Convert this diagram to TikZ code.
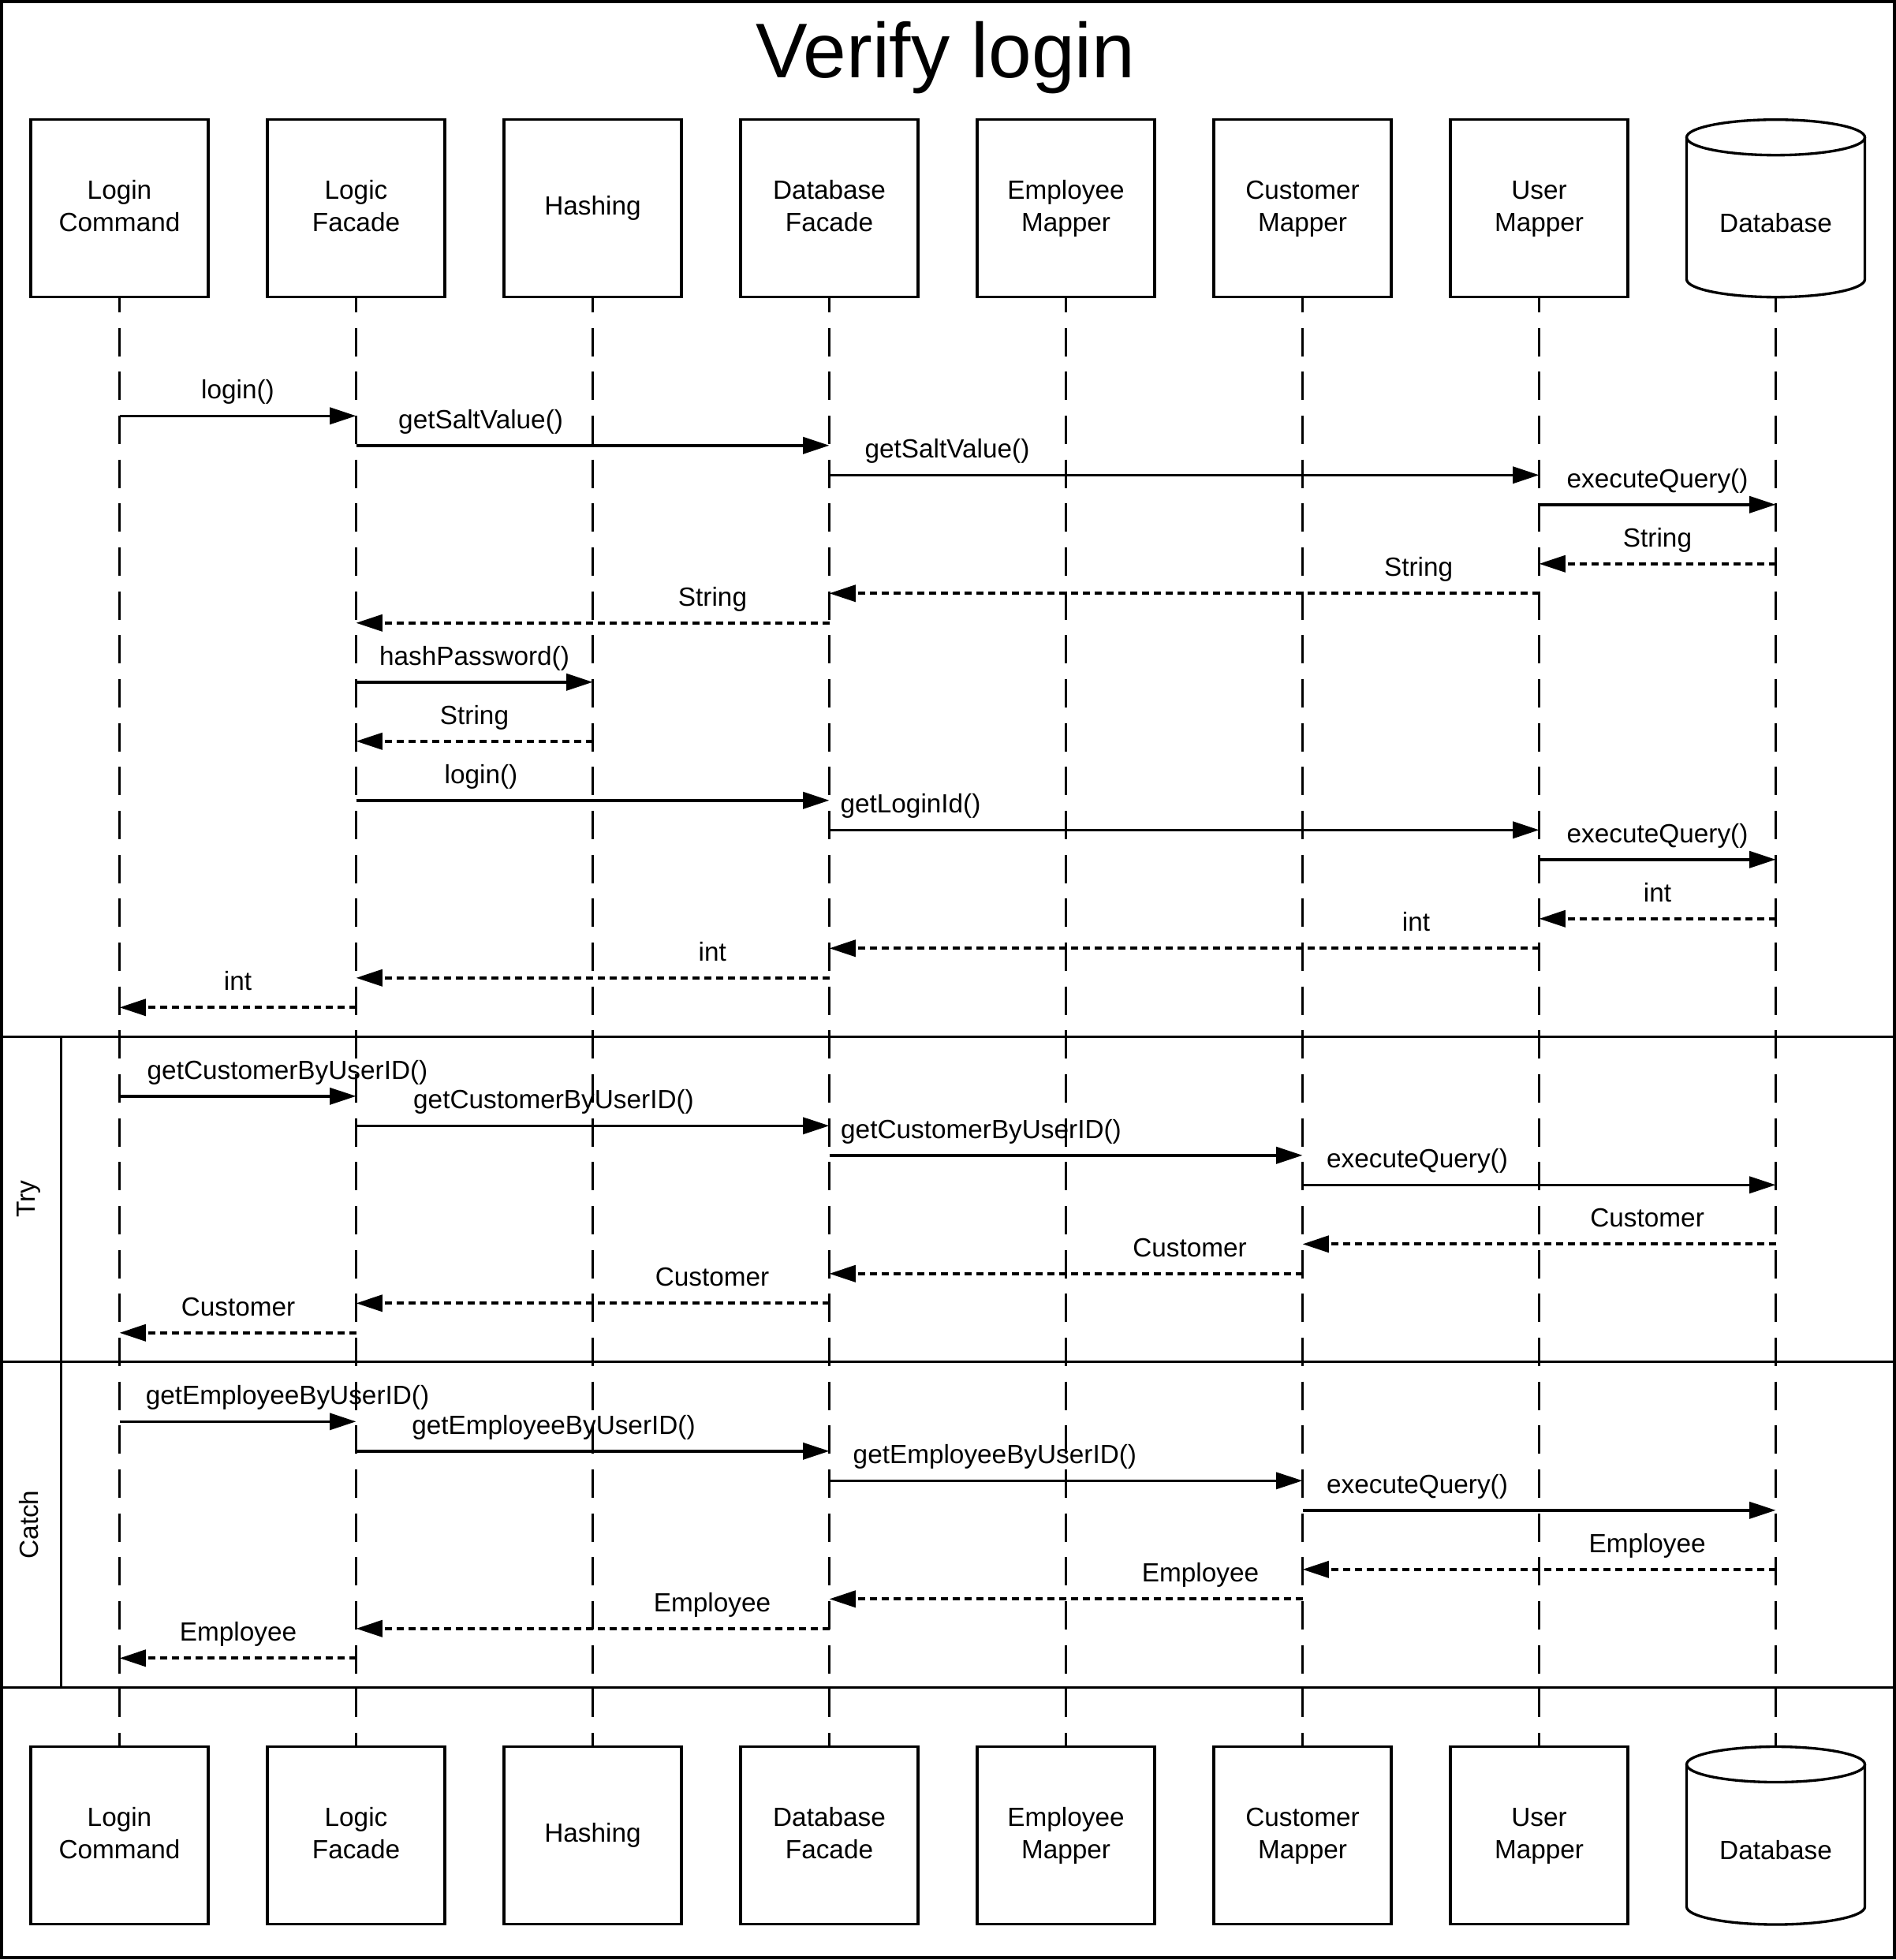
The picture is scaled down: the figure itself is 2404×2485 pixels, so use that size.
\documentclass[tikz,border=0pt]{standalone}
\usepackage{fontspec}
\setmainfont{Liberation Sans}
\usetikzlibrary{arrows.meta}
\newcommand{\seqmsg}[7]{%
  \pgfmathsetmacro{\msgy}{527.3+37.5*#5}%
  \pgfmathsetmacro{\laby}{\msgy-21.5}%
  \draw[#1] (#3 |- 0,\msgy) -- (#4 |- 0,\msgy);%
  \node[lbl, anchor=base] (#2) at (#6,\laby) {#7};%
}
\newcommand{\bxs}{\rule[-3.5pt]{0pt}{12.2pt}}
\begin{document}
\begin{tikzpicture}[x=0.3pt,y=-0.3pt,
  actor/.style={draw, line width=1pt, minimum width=67.5pt, minimum height=67.5pt,
    inner sep=0pt, outer sep=0pt, align=center, font=\fontsize{10}{12.3}\selectfont},
  ghost/.style={minimum width=67.5pt, minimum height=67.5pt, inner sep=0pt, outer sep=0pt},
  lbl/.style={font=\fontsize{10}{12}\selectfont, inner sep=0pt},
  lifeline/.style={line width=1.15pt, dash pattern=on 10.8pt off 5.9pt, dash phase=5pt},
  callarrow/.style={line width=1.05pt, -{Triangle[length=10pt,width=6.3pt]}},
  retarrow/.style={line width=1.1pt, dash pattern=on 2.7pt off 1.8pt, -{Triangle[length=10pt,width=6.3pt]}},
  frameline/.style={line width=1pt},
  cyl/.style={line width=1pt}
]
\useasboundingbox (0,0) rectangle (2404,2485);
\draw[line width=1.2pt] (2,2) rectangle (2402,2482);
\node[font=\fontsize{29.5}{35}\selectfont, anchor=base, inner sep=0pt] (title) at (1199,98.3) {Verify login};

% top participants
\node[actor] (nLC) at (151.5,264.2) {\bxs Login\\\bxs Command};
\node[actor] (nLF) at (451.5,264.2) {\bxs Logic\\\bxs Facade};
\node[actor] (nHS) at (751.5,264.2) {Hashing};
\node[actor] (nDF) at (1051.5,264.2) {\bxs Database\\\bxs Facade};
\node[actor] (nEM) at (1351.5,264.2) {\bxs Employee\\\bxs Mapper};
\node[actor] (nCM) at (1651.5,264.2) {\bxs Customer\\\bxs Mapper};
\node[actor] (nUM) at (1951.5,264.2) {\bxs User\\\bxs Mapper};
\node[ghost, label={[lbl, yshift=-5.5pt]center:Database}] (nDB) at (2251.5,264.2) {};
% bottom participants
\node[actor] (nLCb) at (151.5,2327.2) {\bxs Login\\\bxs Command};
\node[actor] (nLFb) at (451.5,2327.2) {\bxs Logic\\\bxs Facade};
\node[actor] (nHSb) at (751.5,2327.2) {Hashing};
\node[actor] (nDFb) at (1051.5,2327.2) {\bxs Database\\\bxs Facade};
\node[actor] (nEMb) at (1351.5,2327.2) {\bxs Employee\\\bxs Mapper};
\node[actor] (nCMb) at (1651.5,2327.2) {\bxs Customer\\\bxs Mapper};
\node[actor] (nUMb) at (1951.5,2327.2) {\bxs User\\\bxs Mapper};
\node[ghost, label={[lbl, yshift=-5.5pt]center:Database}] (nDBb) at (2251.5,2327.2) {};

% cylinders
\draw[cyl] (2251.5,174.2) ellipse [x radius=33.9pt, y radius=6.75pt];
\draw[cyl] (2138.5,174.2) -- (2138.5,354.2) arc[start angle=180, end angle=360, x radius=33.9pt, y radius=6.75pt] -- (2364.5,174.2);
\draw[cyl] (2251.5,2237) ellipse [x radius=33.9pt, y radius=6.75pt];
\draw[cyl] (2138.5,2237) -- (2138.5,2417.5) arc[start angle=180, end angle=360, x radius=33.9pt, y radius=6.75pt] -- (2364.5,2237);

% frames
\draw[frameline] (2,1314.3) -- (2402,1314.3);
\draw[frameline] (2,1726.7) -- (2402,1726.7);
\draw[frameline] (2,2139.3) -- (2402,2139.3);
\draw[frameline] (77.3,1314.3) -- (77.3,2139.3);
\node[lbl, rotate=90] (try) at (36.7,1520) {Try};
\node[lbl, rotate=90] (catch) at (36.7,1933) {Catch};

% lifelines
\foreach \a in {nLC,nLF,nHS,nDF,nEM,nCM,nUM,nDB}{
  \draw[lifeline] (\a.south) -- (\a b.north);
}

% messages
\seqmsg{callarrow}{m1}{nLC}{nLF}{0}{301.5}{login()}
\seqmsg{callarrow}{m2}{nLF}{nDF}{1}{609.6}{getSaltValue()}
\seqmsg{callarrow}{m3}{nDF}{nUM}{2}{1201}{getSaltValue()}
\seqmsg{callarrow}{m4}{nUM}{nDB}{3}{2101.5}{executeQuery()}
\seqmsg{retarrow}{m5}{nDB}{nUM}{5}{2101.5}{String}
\seqmsg{retarrow}{m6}{nUM}{nDF}{6}{1798.6}{String}
\seqmsg{retarrow}{m7}{nDF}{nLF}{7}{903.5}{String}
\seqmsg{callarrow}{m8}{nLF}{nHS}{9}{601.5}{hashPassword()}
\seqmsg{retarrow}{m9}{nHS}{nLF}{11}{601.5}{String}
\seqmsg{callarrow}{m10}{nLF}{nDF}{13}{610}{login()}
\seqmsg{callarrow}{m11}{nDF}{nUM}{14}{1154.5}{getLoginId()}
\seqmsg{callarrow}{m12}{nUM}{nDB}{15}{2101.5}{executeQuery()}
\seqmsg{retarrow}{m13}{nDB}{nUM}{17}{2101.5}{int}
\seqmsg{retarrow}{m14}{nUM}{nDF}{18}{1795.5}{int}
\seqmsg{retarrow}{m15}{nDF}{nLF}{19}{903.3}{int}
\seqmsg{retarrow}{m16}{nLF}{nLC}{20}{301.5}{int}
\seqmsg{callarrow}{m17}{nLC}{nLF}{23}{364.5}{getCustomerByUserID()}
\seqmsg{callarrow}{m18}{nLF}{nDF}{24}{702}{getCustomerByUserID()}
\seqmsg{callarrow}{m19}{nDF}{nCM}{25}{1244}{getCustomerByUserID()}
\seqmsg{callarrow}{m20}{nCM}{nDB}{26}{1797}{executeQuery()}
\seqmsg{retarrow}{m21}{nDB}{nCM}{28}{2088.6}{Customer}
\seqmsg{retarrow}{m22}{nCM}{nDF}{29}{1508.6}{Customer}
\seqmsg{retarrow}{m23}{nDF}{nLF}{30}{903}{Customer}
\seqmsg{retarrow}{m24}{nLF}{nLC}{31}{302}{Customer}
\seqmsg{callarrow}{m25}{nLC}{nLF}{34}{364.5}{getEmployeeByUserID()}
\seqmsg{callarrow}{m26}{nLF}{nDF}{35}{702}{getEmployeeByUserID()}
\seqmsg{callarrow}{m27}{nDF}{nCM}{36}{1261.4}{getEmployeeByUserID()}
\seqmsg{callarrow}{m28}{nCM}{nDB}{37}{1797}{executeQuery()}
\seqmsg{retarrow}{m29}{nDB}{nCM}{39}{2088.6}{Employee}
\seqmsg{retarrow}{m30}{nCM}{nDF}{40}{1522}{Employee}
\seqmsg{retarrow}{m31}{nDF}{nLF}{41}{903}{Employee}
\seqmsg{retarrow}{m32}{nLF}{nLC}{42}{302}{Employee}
\end{tikzpicture}
\end{document}
